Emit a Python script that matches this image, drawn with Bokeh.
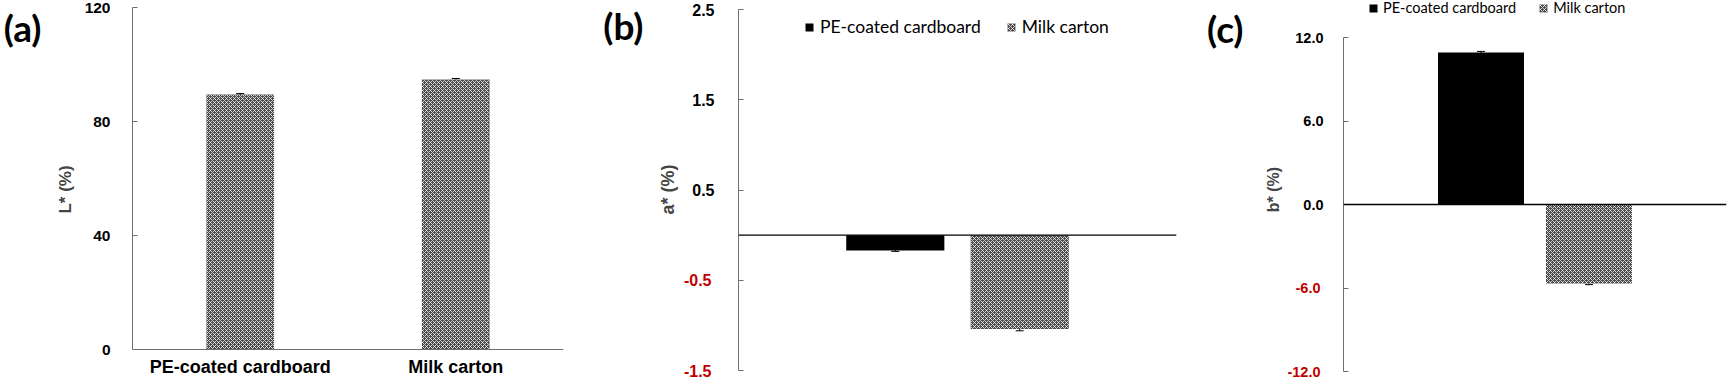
from bokeh.plotting import figure
from bokeh.models import (FactorRange, Range1d, FixedTicker, CustomJSTickFormatter, Span,
                          Legend, LegendItem, ColumnDataSource, Whisker, TeeHead, LinearAxis)
from bokeh.core.properties import value
from bokeh.transform import dodge
from bokeh.layouts import row
from bokeh.embed import file_html
from bokeh.resources import INLINE

# ---------------- data ----------------
samples = ["PE-coated cardboard", "Milk carton"]
L_values = [89.5, 94.7]
L_errors = [0.3, 0.4]
a_values = [-0.17, -1.04]
a_errors = [0.01, 0.02]
b_values = [10.92, -5.68]
b_errors = [0.08, 0.08]
L_ticks = [0, 40, 80, 120]
a_ticks = [-1.5, -0.5, 0.5, 1.5, 2.5]
b_ticks = [-12, -6, 0, 6, 12]

H = 378
TICK_FONT = "Liberation Sans"
AXIS_COLOR = "#6e6e6e"
RED = "#C00000"
HATCH = dict(fill_color="#4a4a4a", hatch_pattern="diagonal_cross", hatch_color="#ffffff",
             hatch_alpha=0.75, hatch_scale=4, hatch_weight=1)


def y_mapping(v_hi, p_hi, v_lo, p_lo):
    """pixel anchors -> Range1d covering the whole (0..H) frame, plus pixel->value fn"""
    k = (p_lo - p_hi) / (v_hi - v_lo)
    rng = Range1d(v_lo - (H - p_lo) / k, v_hi + p_hi / k)
    return rng, (lambda p: v_hi - (p - p_hi) / k)


def base_fig(width, x_range, y_range, left, right):
    p = figure(width=width, height=H, x_range=x_range, y_range=y_range,
               output_backend="svg", toolbar_location=None,
               x_axis_location=None, y_axis_location=None,
               min_border_left=left, min_border_right=right,
               min_border_top=0, min_border_bottom=0)
    p.xgrid.visible = False
    p.ygrid.visible = False
    p.outline_line_color = None
    p.background_fill_color = "white"
    p.border_fill_color = "white"
    return p


def plain_axis(**kw):
    return LinearAxis(major_tick_in=0, major_tick_out=0, minor_tick_in=0, minor_tick_out=0,
                      axis_line_color=None, major_tick_line_color=None,
                      minor_tick_line_color=None, **kw)


def main_axis(ticks, size, standoff, bounds, fmt=None):
    ax = LinearAxis(ticker=FixedTicker(ticks=ticks), bounds=bounds,
                    major_tick_in=5, major_tick_out=0, minor_tick_in=0, minor_tick_out=0,
                    minor_tick_line_color=None, axis_line_color=AXIS_COLOR,
                    major_tick_line_color=AXIS_COLOR,
                    major_label_text_font=TICK_FONT, major_label_text_font_style="bold",
                    major_label_text_font_size=size, major_label_text_color="black",
                    major_label_standoff=standoff)
    if fmt is not None:
        ax.formatter = fmt
    return ax


def letter_axis(letter, yval, standoff):
    return plain_axis(ticker=FixedTicker(ticks=[yval]),
                      formatter=CustomJSTickFormatter(code=f"return '{letter}';"),
                      major_label_text_font="Lato", major_label_text_font_style="bold",
                      major_label_text_font_size="37px", major_label_text_color="black",
                      major_label_standoff=standoff)


# ---------------- panel (a) ----------------
yr_a, pix_a = y_mapping(120, 7, 0, 349)
pa = base_fig(600, FactorRange(factors=samples, range_padding=0), yr_a, 130, 37)
src_a = ColumnDataSource(dict(x=samples, top=L_values,
                              upper=[v + e for v, e in zip(L_values, L_errors)],
                              lower=[v - e for v, e in zip(L_values, L_errors)],
                              lab_y=[pix_a(356)] * len(samples)))
pa.vbar(x="x", top="top", bottom=0, width=0.314, source=src_a, line_color=None, **HATCH)
pa.add_layout(Whisker(source=src_a, base="x", upper="upper", lower="lower",
                      line_color="black", line_width=1,
                      upper_head=TeeHead(size=8, line_color="black"),
                      lower_head=TeeHead(size=8, line_color="black")))
pa.add_layout(Span(location=0, dimension="width", line_color=AXIS_COLOR, line_width=1))
pa.text(x="x", y="lab_y", text="x", source=src_a, text_align="center", text_baseline="top",
        text_font=value(TICK_FONT), text_font_style="bold", text_font_size="18px",
        text_color="black")
ya = main_axis(L_ticks, "15.5px", 22, (0, 120))
ya.axis_label = "L* (%)"
ya.axis_label_text_font = TICK_FONT
ya.axis_label_text_font_style = "bold"
ya.axis_label_text_font_size = "17px"
ya.axis_label_standoff = 7
pa.add_layout(ya, "left")
w1_a = 22 + 26 + 7 + 20
pa.add_layout(letter_axis("(a)", pix_a(26.5), (130 - w1_a) - 44), "left")


# ---------------- clustered panels (b), (c) ----------------
def clustered(width, group, values, errors, ticks, anchors, left, right,
              tick_size, ext_pos, ext_neg, label_std, ylabel, ylabel_size, ylabel_h,
              ylabel_std, ylabel_center_px, bar_width, offset, legend_loc, legend_size,
              legend_spacing, legend_standoff, legend_h, letter, letter_px, letter_right):
    yr, pix = y_mapping(*anchors)
    p = base_fig(width, FactorRange(factors=[group], range_padding=0), yr, left, right)
    p.add_layout(Span(location=0, dimension="width", line_color="black", line_width=1.3))
    renderers = []
    for i, (name, v, e) in enumerate(zip(samples, values, errors)):
        src = ColumnDataSource(dict(x=[group], top=[v], upper=[v + e], lower=[v - e]))
        off = -offset if i == 0 else offset
        style = dict(fill_color="black") if i == 0 else HATCH
        r = p.vbar(x=dodge("x", off, range=p.x_range), top="top", bottom=0, width=bar_width,
                   source=src, line_color=None, **style)
        renderers.append(r)
        p.add_layout(Whisker(source=src, base=dodge("x", off, range=p.x_range),
                             upper="upper", lower="lower", line_color="black", line_width=1,
                             upper_head=TeeHead(size=8, line_color="black"),
                             lower_head=TeeHead(size=8, line_color="black")))
    lo, hi = min(ticks), max(ticks)
    # inner: real axis (black labels for non-negative ticks)
    fmt = CustomJSTickFormatter(code="return tick < 0 ? '' : tick.toFixed(1);")
    p.add_layout(main_axis(ticks, tick_size, label_std, (lo, hi), fmt), "left")
    w1 = label_std + ext_pos
    # middle: red labels for negative ticks + axis title
    neg = [t for t in ticks if t < 0]
    c = pix(ylabel_center_px)
    red = plain_axis(ticker=FixedTicker(ticks=neg),
                     formatter=CustomJSTickFormatter(code="return tick.toFixed(1);"),
                     major_label_text_font=TICK_FONT, major_label_text_font_style="bold",
                     major_label_text_font_size=tick_size, major_label_text_color=RED,
                     major_label_standoff=label_std - w1,
                     bounds=(lo, 2 * c - lo),
                     axis_label=ylabel, axis_label_text_font=TICK_FONT,
                     axis_label_text_font_style="bold", axis_label_text_font_size=ylabel_size,
                     axis_label_standoff=ylabel_std)
    p.add_layout(red, "left")
    w2 = (label_std - w1) + ext_neg + ylabel_std + ylabel_h
    # outer: panel letter
    pos3 = left - w1 - w2
    p.add_layout(letter_axis(letter, pix(letter_px), int(round(pos3 - letter_right))), "left")

    legend = Legend(items=[LegendItem(label=samples[0], renderers=[renderers[0]]),
                           LegendItem(label=samples[1], renderers=[renderers[1]])],
                    location=legend_loc, orientation="horizontal",
                    label_text_font="Lato", label_text_font_size=legend_size,
                    label_text_color="black", label_height=legend_h,
                    glyph_width=10, glyph_height=10, label_standoff=legend_standoff,
                    spacing=legend_spacing, padding=0, margin=0,
                    border_line_color=None, background_fill_alpha=0)
    p.add_layout(legend)
    return p


# frame left edges: (b) 737-600 = 137, (c) 1343-1200 = 143
pb = clustered(600, "a*", a_values, a_errors, a_ticks, (2.5, 9, -1.5, 370), 137, 24,
               "16px", 22, 28, 24, "a* (%)", "18px", 21, 3, 177,
               0.224, 0.142, (66, H - 37), "17.5px", 25, 6, 20, "(b)", 25, 650 - 600)
pc = clustered(528, "b*", b_values, b_errors, b_ticks, (12, 37, -12, 371), 143, 2,
               "14.5px", 28, 33, 20, "b* (%)", "16px", 19, 2, 151.5,
               0.2245, 0.141, (25, H - 16), "14.5px", 22, 5, 16, "(c)", 27.5, 1250 - 1200)

layout = row(pa, pb, pc)
open("out.html", "w").write(file_html(layout, INLINE))
